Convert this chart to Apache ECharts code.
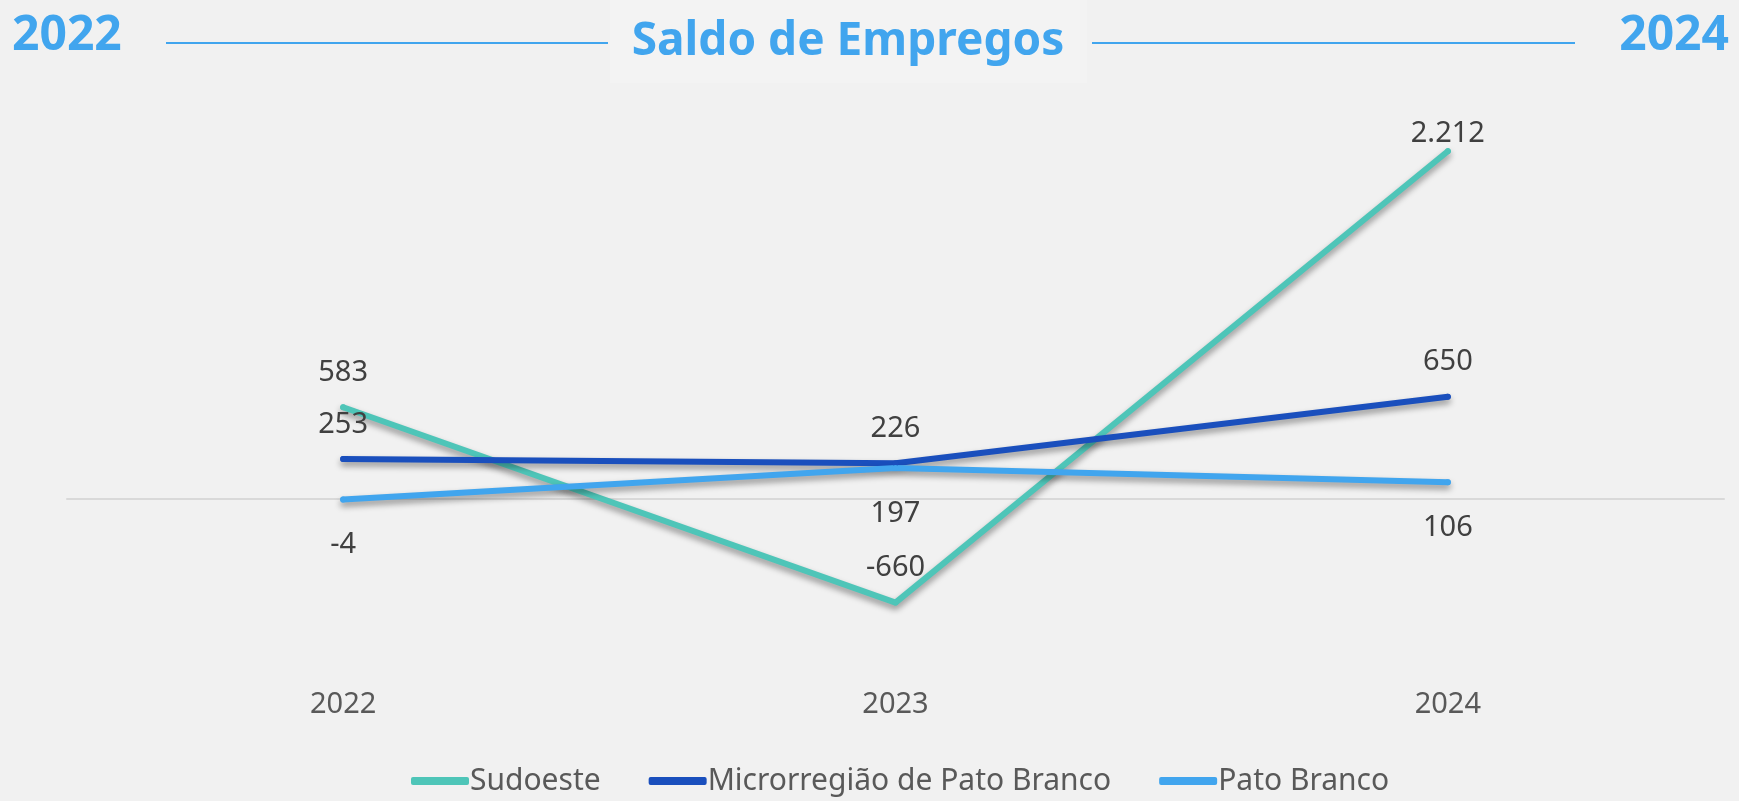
<!DOCTYPE html>
<html>
<head>
<meta charset="utf-8">
<title>Saldo de Empregos</title>
<script src="https://cdn.jsdelivr.net/npm/echarts@6/dist/echarts.min.js"></script>
<style>
    html, body { margin: 0; padding: 0; background: #f1f1f1; }
    #chart { width: 1739px; height: 801px; }
</style>
</head>
<body>
<div id="chart"></div>
<script>
// dados do gráfico
const anos = ['2022', '2023', '2024'];
const sudoeste = [583, -660, 2212];
const microrregiao = [253, 226, 650];
const patoBranco = [-4, 197, 106];

const FONTE = '"Noto Sans", "Open Sans", sans-serif';
const AZUL = '#41a5ee';

// formata número no padrão brasileiro (2.212)
function formatar(v) {
    return String(v).replace(/\B(?=(\d{3})+(?!\d))/g, '.');
}

// monta os pontos com a posição do rótulo
function pontos(valores, posicoes, distancias) {
    return valores.map((v, i) => ({
        value: v,
        label: { position: posicoes[i], distance: distancias[i] }
    }));
}

function serie(nome, cor, data) {
    return {
        name: nome,
        type: 'line',
        xAxisIndex: 0,
        showSymbol: true,
        symbol: 'circle',
        symbolSize: 6,
        data: data,
        lineStyle: {
            color: cor,
            width: 6,
            cap: 'round',
            join: 'round',
            shadowColor: 'rgba(0,0,0,0.4)',
            shadowBlur: 6,
            shadowOffsetY: 4
        },
        itemStyle: { color: cor, borderWidth: 0 },
        label: {
            show: true,
            fontFamily: FONTE,
            fontSize: 29,
            color: '#404040',
            formatter: p => formatar(p.value)
        },
        emphasis: { disabled: true }
    };
}

let chart = echarts.init(document.getElementById('chart'));

let option = {
    backgroundColor: '#f1f1f1',
    animation: false,
    grid: {
        left: 67,
        right: 15,
        top: 106,
        bottom: 145
    },
    legend: {
        bottom: 0,
        left: 406,
        icon: 'roundRect',
        itemWidth: 58,
        itemHeight: 8,
        itemGap: 48,
        textStyle: {
            fontFamily: FONTE,
            fontSize: 30,
            color: '#595959',
            padding: [0, 0, 0, -4]
        },
        data: ['Sudoeste', 'Microrregião de Pato Branco', 'Pato Branco']
    },
    xAxis: [
        {
            type: 'category',
            data: anos,
            position: 'bottom',
            axisLine: { show: false, onZero: false },
            axisTick: { show: false },
            axisLabel: {
                margin: 34,
                fontFamily: FONTE,
                fontSize: 29,
                color: '#595959'
            }
        },
        {
            // linha do zero
            type: 'category',
            data: anos,
            position: 'top',
            axisLine: { show: true, onZero: true, lineStyle: { color: '#d9d9d9', width: 2 } },
            axisTick: { show: false },
            axisLabel: { show: false }
        }
    ],
    yAxis: {
        type: 'value',
        min: -1000,
        max: 2500,
        show: false,
        splitLine: { show: false }
    },
    graphic: [
        {
            type: 'rect',
            shape: { x: 610, y: 0, width: 477, height: 83 },
            style: { fill: '#f3f3f3' },
            silent: true
        },
        {
            type: 'text',
            x: 848,
            y: 42,
            style: {
                text: 'Saldo de Empregos',
                fill: AZUL,
                fontFamily: FONTE,
                fontWeight: 'bold',
                fontSize: 46,
                textAlign: 'center',
                textVerticalAlign: 'middle'
            }
        },
        {
            type: 'text',
            x: 12,
            y: 36,
            style: {
                text: '2022',
                fill: AZUL,
                fontFamily: FONTE,
                fontWeight: 'bold',
                fontSize: 48,
                textAlign: 'left',
                textVerticalAlign: 'middle'
            }
        },
        {
            type: 'text',
            x: 1729,
            y: 36,
            style: {
                text: '2024',
                fill: AZUL,
                fontFamily: FONTE,
                fontWeight: 'bold',
                fontSize: 48,
                textAlign: 'right',
                textVerticalAlign: 'middle'
            }
        },
        {
            type: 'line',
            shape: { x1: 166, y1: 43, x2: 608, y2: 43 },
            style: { stroke: AZUL, lineWidth: 2 }
        },
        {
            type: 'line',
            shape: { x1: 1092, y1: 43, x2: 1575, y2: 43 },
            style: { stroke: AZUL, lineWidth: 2 }
        }
    ],
    series: [
        serie('Sudoeste', '#4ec5b8', pontos(sudoeste, ['top', 'top', 'top'], [17, 17, 0])),
        serie('Microrregião de Pato Branco', '#1a4fbd', pontos(microrregiao, ['top', 'top', 'top'], [17, 17, 17])),
        serie('Pato Branco', AZUL, pontos(patoBranco, ['bottom', 'bottom', 'bottom'], [28, 28, 28]))
    ]
};

chart.setOption(option);

window.onresize = function () {
    chart.resize();
};
</script>
</body>
</html>
